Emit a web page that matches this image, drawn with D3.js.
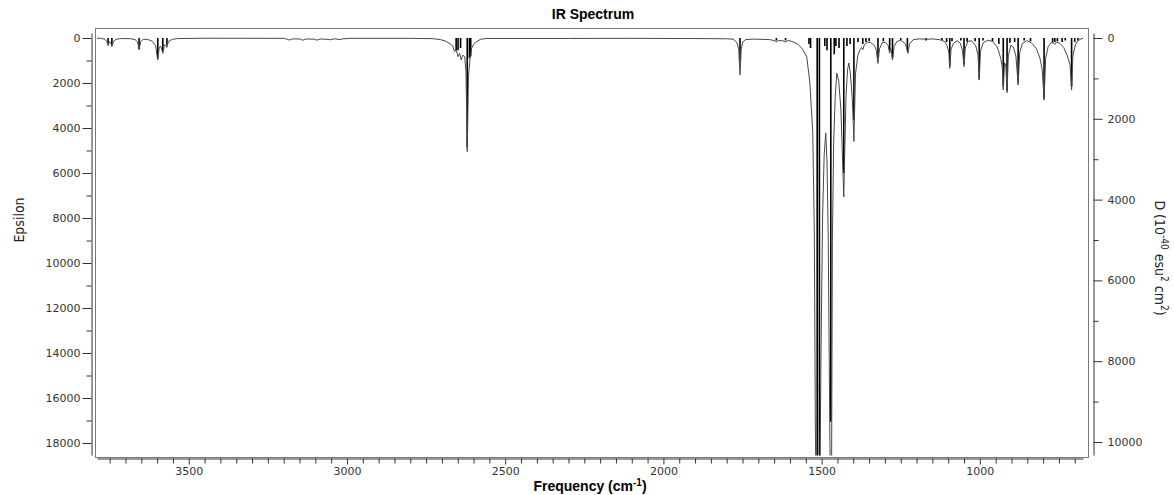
<!DOCTYPE html>
<html>
<head>
<meta charset="utf-8">
<script src="https://cdn.jsdelivr.net/npm/d3@7"></script>
<style>
  body { margin: 0; background: #fff; }
  svg { display: block; }
</style>
</head>
<body>
<div id="chart"></div>
<script>
// broadened spectrum: [frequency cm-1, epsilon]
const curve = [
  [3790, 8], [3775, 20], [3765, 60], [3759, 150], [3755, 340], [3751, 170], [3747, 190],
  [3743, 380], [3738, 150], [3730, 60], [3715, 25], [3685, 30], [3670, 70], [3662, 170],
  [3657, 530], [3652, 160], [3644, 60], [3630, 60], [3615, 150], [3605, 330], [3598, 980],
  [3593, 400], [3588, 380], [3582, 680], [3577, 300], [3573, 330], [3569, 420], [3564, 150],
  [3552, 60], [3535, 25], [3450, 10], [3200, 15], [3190, 50], [3182, 90], [3172, 40],
  [3148, 45], [3140, 100], [3130, 45], [3105, 50], [3095, 95], [3085, 45], [3060, 60],
  [3052, 80], [3040, 35], [3022, 70], [3015, 40], [2990, 15], [2800, 15], [2730, 30],
  [2705, 70], [2690, 130], [2675, 250], [2666, 350], [2660, 610], [2655, 520], [2649, 830],
  [2644, 680], [2639, 980], [2634, 760], [2628, 830], [2624, 1500], [2620, 5050], [2616, 1700],
  [2611, 890], [2606, 450], [2598, 250], [2590, 160], [2578, 60], [2560, 20], [2300, 20],
  [2100, 15], [1900, 25], [1800, 35], [1780, 50], [1768, 190], [1762, 500], [1758, 1640],
  [1754, 480], [1749, 180], [1740, 70], [1715, 50], [1665, 70], [1648, 120], [1643, 170],
  [1636, 110], [1620, 130], [1614, 180], [1606, 110], [1590, 170], [1575, 280], [1560, 500],
  [1547, 840], [1537, 2000], [1528, 4220], [1523, 8700], [1520, 17000], [1517, 21000],
  [1506, 21000], [1502, 14000], [1497, 8000], [1492, 5200], [1487, 4220], [1483, 5500],
  [1479, 9000], [1475, 16000], [1472, 21000], [1469, 21000], [1466, 9000], [1462, 4670],
  [1457, 2600], [1452, 1560], [1446, 1900], [1439, 3200], [1430, 7070], [1423, 2600],
  [1418, 1400], [1414, 1110], [1409, 1600], [1403, 2700], [1398, 4600], [1393, 1600],
  [1386, 800], [1379, 530], [1374, 420], [1370, 520], [1365, 300], [1355, 190], [1345, 200],
  [1333, 330], [1327, 560], [1322, 1130], [1317, 480], [1308, 200], [1298, 200], [1290, 330],
  [1285, 670], [1281, 480], [1276, 980], [1271, 380], [1262, 150], [1248, 110], [1236, 250],
  [1231, 440], [1227, 680], [1222, 250], [1210, 70], [1190, 40], [1170, 60], [1150, 40],
  [1128, 70], [1112, 150], [1103, 350], [1098, 650], [1095, 1350], [1091, 500], [1083, 230],
  [1072, 120], [1062, 230], [1055, 550], [1050, 1270], [1046, 450], [1038, 150], [1026, 120],
  [1013, 350], [1006, 750], [1002, 1870], [998, 600], [990, 220], [975, 100], [960, 150],
  [945, 400], [934, 900], [929, 1300], [926, 2310], [922, 1100], [918, 1200], [914, 2430],
  [910, 800], [902, 320], [894, 400], [886, 800], [879, 2090], [874, 650], [866, 250],
  [852, 120], [838, 200], [822, 450], [810, 900], [803, 1400], [797, 2760], [792, 900],
  [784, 380], [774, 200], [767, 230], [763, 280], [758, 180], [748, 230], [735, 420],
  [722, 850], [715, 1200], [710, 2310], [706, 800], [698, 300], [690, 120], [680, 40], [674, 20]
];

// stick intensities (right axis)
const stickFreq = [3755, 3743, 3657, 3598, 3582, 3569, 2655, 2649, 2641, 2620, 2613, 2609,
  1758, 1643, 1614, 1540, 1535, 1514, 1507, 1490, 1483, 1471, 1460, 1455, 1445, 1430, 1420,
  1410, 1398, 1385, 1370, 1360, 1350, 1322, 1305, 1285, 1276, 1250, 1229, 1170, 1120, 1105,
  1095, 1088, 1060, 1050, 1040, 1015, 1002, 990, 960, 940, 926, 914, 905, 890, 879, 860, 840,
  797, 770, 763, 755, 740, 730, 710, 700, 690];
const stickD = [150, 180, 270, 500, 330, 180, 300, 300, 250, 2700, 500, 450,
  590, 60, 60, 150, 250, 10400, 10400, 200, 300, 9500, 400, 200, 250, 3340, 200,
  150, 2030, 100, 150, 100, 80, 500, 80, 300, 480, 50, 330, 60, 50, 100,
  700, 80, 60, 650, 90, 80, 1000, 60, 80, 150, 1200, 1300, 120, 100, 1100, 60, 80,
  1500, 120, 100, 80, 100, 60, 1200, 100, 60];

const freqTicks = d3.range(700, 3751, 50);
const freqLabels = [1000, 1500, 2000, 2500, 3000, 3500];
const epsTicks = d3.range(0, 18001, 1000);
const epsLabels = [0, 2000, 4000, 6000, 8000, 10000, 12000, 14000, 16000, 18000];
const dTicks = d3.range(0, 10001, 1000);
const dLabels = [0, 2000, 4000, 6000, 8000, 10000];

const width = 1174;
const height = 495;
const frame = { left: 95, top: 28, right: 1088, bottom: 457 };

const x = d3.scaleLinear().domain([3790, 674]).range([97, 1083]);
const yEps = d3.scaleLinear().domain([-222, 18533]).range([33, 455]);
const yD = d3.scaleLinear().domain([-124, 10322]).range([33, 455]);

const svg = d3.select("#chart").append("svg")
    .attr("width", width)
    .attr("height", height)
    .attr("viewBox", [0, 0, width, height]);

svg.append("defs").append("clipPath")
    .attr("id", "plot-clip")
  .append("rect")
    .attr("x", frame.left)
    .attr("y", frame.top)
    .attr("width", frame.right - frame.left)
    .attr("height", 455.5 - frame.top);

// plot frame
svg.append("rect")
    .attr("x", frame.left + 0.5)
    .attr("y", frame.top + 0.5)
    .attr("width", frame.right - frame.left)
    .attr("height", frame.bottom - frame.top)
    .attr("fill", "none")
    .attr("stroke", "#7a7a7a");

const styleAxis = g => {
    g.select(".domain").attr("stroke", "#333");
    g.selectAll(".tick line").attr("stroke", "#333");
    g.selectAll(".tick text")
        .attr("fill", "#333")
        .style("font-family", "'DejaVu Sans', Verdana, sans-serif")
        .style("font-size", "11px");
};

// left axis (epsilon)
svg.append("g")
    .attr("transform", "translate(91.5,0)")
    .call(d3.axisLeft(yEps).tickValues(epsTicks).tickSize(9).tickPadding(2).tickSizeOuter(0)
        .tickFormat(d => epsLabels.includes(d) ? d : ""))
    .call(styleAxis)
    .call(g => g.selectAll(".tick").filter(d => !epsLabels.includes(d)).select("line").attr("x2", -5));

// right axis (D)
svg.append("g")
    .attr("transform", "translate(1093.5,0)")
    .call(d3.axisRight(yD).tickValues(dTicks).tickSize(9).tickPadding(5).tickSizeOuter(0)
        .tickFormat(d => dLabels.includes(d) ? d : ""))
    .call(styleAxis)
    .call(g => g.selectAll(".tick").filter(d => !dLabels.includes(d)).select("line").attr("x2", 5));

// bottom axis (frequency)
svg.append("g")
    .attr("transform", "translate(0,458.5)")
    .call(d3.axisBottom(x).tickValues(freqTicks).tickSize(5).tickPadding(4).tickSizeOuter(0)
        .tickFormat(d => freqLabels.includes(d) ? d : ""))
    .call(styleAxis)
    .call(g => g.selectAll(".tick").filter(d => freqLabels.includes(d)).select("line").attr("y2", 6));

const plot = svg.append("g").attr("clip-path", "url(#plot-clip)");

// sticks
plot.append("g")
    .attr("stroke", "#000")
    .attr("stroke-width", 1.6)
  .selectAll("line")
  .data(stickFreq.map((f, i) => ({ f, d: stickD[i] })))
  .join("line")
    .attr("x1", d => x(d.f))
    .attr("x2", d => x(d.f))
    .attr("y1", yD(0))
    .attr("y2", d => yD(d.d));

// spectrum curve
plot.append("path")
    .datum(curve)
    .attr("fill", "none")
    .attr("stroke", "#484848")
    .attr("stroke-width", 1)
    .attr("d", d3.line().x(d => x(d[0])).y(d => yEps(d[1])));

// title and axis labels
svg.append("text")
    .attr("x", 593)
    .attr("y", 19)
    .attr("text-anchor", "middle")
    .style("font-family", "'Liberation Sans', Arial, sans-serif")
    .style("font-weight", "bold")
    .style("font-size", "14px")
    .text("IR Spectrum");

const xl = svg.append("text")
    .attr("x", 590)
    .attr("y", 491)
    .attr("text-anchor", "middle")
    .style("font-family", "'Liberation Sans', Arial, sans-serif")
    .style("font-weight", "bold")
    .style("font-size", "14px");
xl.append("tspan").text("Frequency (cm");
xl.append("tspan").attr("dy", -5).style("font-size", "10px").text("-1");
xl.append("tspan").attr("dy", 5).text(")");

svg.append("text")
    .attr("transform", "translate(24,220) rotate(-90)")
    .attr("text-anchor", "middle")
    .style("font-family", "'DejaVu Sans Condensed', 'DejaVu Sans', sans-serif")
    .style("font-size", "14px")
    .attr("fill", "#222")
    .text("Epsilon");

const dl = svg.append("text")
    .attr("transform", "translate(1155,258) rotate(90)")
    .attr("text-anchor", "middle")
    .style("font-family", "'DejaVu Sans Condensed', 'DejaVu Sans', sans-serif")
    .style("font-size", "14px")
    .attr("fill", "#222");
dl.append("tspan").text("D (10");
dl.append("tspan").attr("dy", -6).style("font-size", "10px").text("-40");
dl.append("tspan").attr("dy", 6).text(" esu");
dl.append("tspan").attr("dy", -6).style("font-size", "10px").text("2");
dl.append("tspan").attr("dy", 6).text(" cm");
dl.append("tspan").attr("dy", -6).style("font-size", "10px").text("2");
dl.append("tspan").attr("dy", 6).text(")");
</script>
</body>
</html>
